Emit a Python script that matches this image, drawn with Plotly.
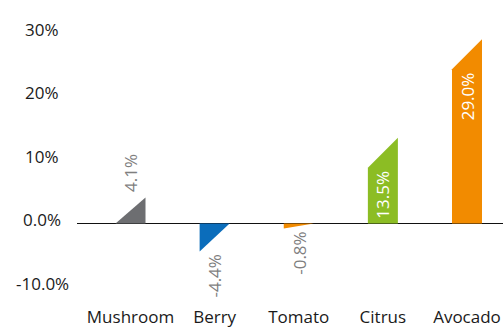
import plotly.graph_objects as go

# Year-over-year change by product line (%)
categories = ["Mushroom", "Berry", "Tomato", "Citrus", "Avocado"]
changes = [4.1, -4.4, -0.8, 13.5, 29.0]
bar_colors = ["#6d6e71", "#0b6dbb", "#f28b00", "#8cbd24", "#f28b00"]

y_tick_values = [-10, 0, 10, 20, 30]
y_tick_labels = ["-10.0%", "0.0%", "10%", "20%", "30%"]

W, H = 503, 327
M_L, M_R, M_T, M_B = 77, 0, 10, 27
plot_w = W - M_L - M_R
plot_h = H - M_T - M_B

x_range = [-0.636, 4.428]
y_range = [-12.05, 33.62]

px_per_x = plot_w / (x_range[1] - x_range[0])
px_per_y = plot_h / (y_range[1] - y_range[0])

bar_w = 30 / px_per_x          # bar width in x units
slant = 30 / px_per_y          # height of the bevelled corner in y units

FONT = "Open Sans"
fig = go.Figure()
annotations = []

for i, (cat, v, col) in enumerate(zip(categories, changes, bar_colors)):
    x0, x1 = i - bar_w / 2, i + bar_w / 2
    s = min(abs(v), slant)
    if v >= 0:
        xs = [x0, x1, x1, x0, x0]
        ys = [0, 0, v, v - s, 0]
    else:
        xs = [x0, x1, x1, x0, x0]
        ys = [0, 0, v + s, v, 0]
    fig.add_trace(go.Scatter(
        x=xs, y=ys, mode="lines", fill="toself", fillcolor=col,
        line=dict(width=0, color=col), hoverinfo="skip", showlegend=False,
        name=cat,
    ))

    label = f"{v:.1f}%"
    inside = abs(v) - slant > 7.5
    if inside:
        annotations.append(dict(
            x=i, y=v - s, xref="x", yref="y", text=label, textangle=-90,
            showarrow=False, xanchor="center", yanchor="top", yshift=-1,
            font=dict(family=FONT, size=17, color="white"),
        ))
    elif v >= 0:
        annotations.append(dict(
            x=i, y=v, xref="x", yref="y", text=label, textangle=-90,
            showarrow=False, xanchor="center", yanchor="bottom", yshift=3,
            font=dict(family=FONT, size=17, color="#7f7f7f"),
        ))
    else:
        annotations.append(dict(
            x=i, y=v, xref="x", yref="y", text=label, textangle=-90,
            showarrow=False, xanchor="center", yanchor="top", yshift=-1,
            font=dict(family=FONT, size=17, color="#7f7f7f"),
        ))

# Value-axis labels, centred in the left gutter
for val, txt in zip(y_tick_values, y_tick_labels):
    annotations.append(dict(
        x=(42 - M_L) / plot_w, y=val, xref="paper", yref="y", text=txt,
        showarrow=False, xanchor="center", yanchor="middle", yshift=3.5,
        font=dict(family=FONT, size=17, color="#1a1a1a"),
    ))

fig.update_layout(
    width=W, height=H,
    margin=dict(l=M_L, r=M_R, t=M_T, b=M_B, pad=0),
    paper_bgcolor="white", plot_bgcolor="white",
    annotations=annotations,
    xaxis=dict(
        range=x_range, tickmode="array", tickvals=list(range(len(categories))),
        ticktext=categories, showgrid=False, zeroline=False, showline=False,
        ticks="", ticklabelstandoff=5,
        tickfont=dict(family=FONT, size=17, color="#1a1a1a"),
        fixedrange=True,
    ),
    yaxis=dict(
        range=y_range, showgrid=False, showticklabels=False, ticks="",
        zeroline=True, zerolinecolor="#111111", zerolinewidth=1.3,
        showline=False, fixedrange=True,
    ),
)

fig.write_html("out.html")
